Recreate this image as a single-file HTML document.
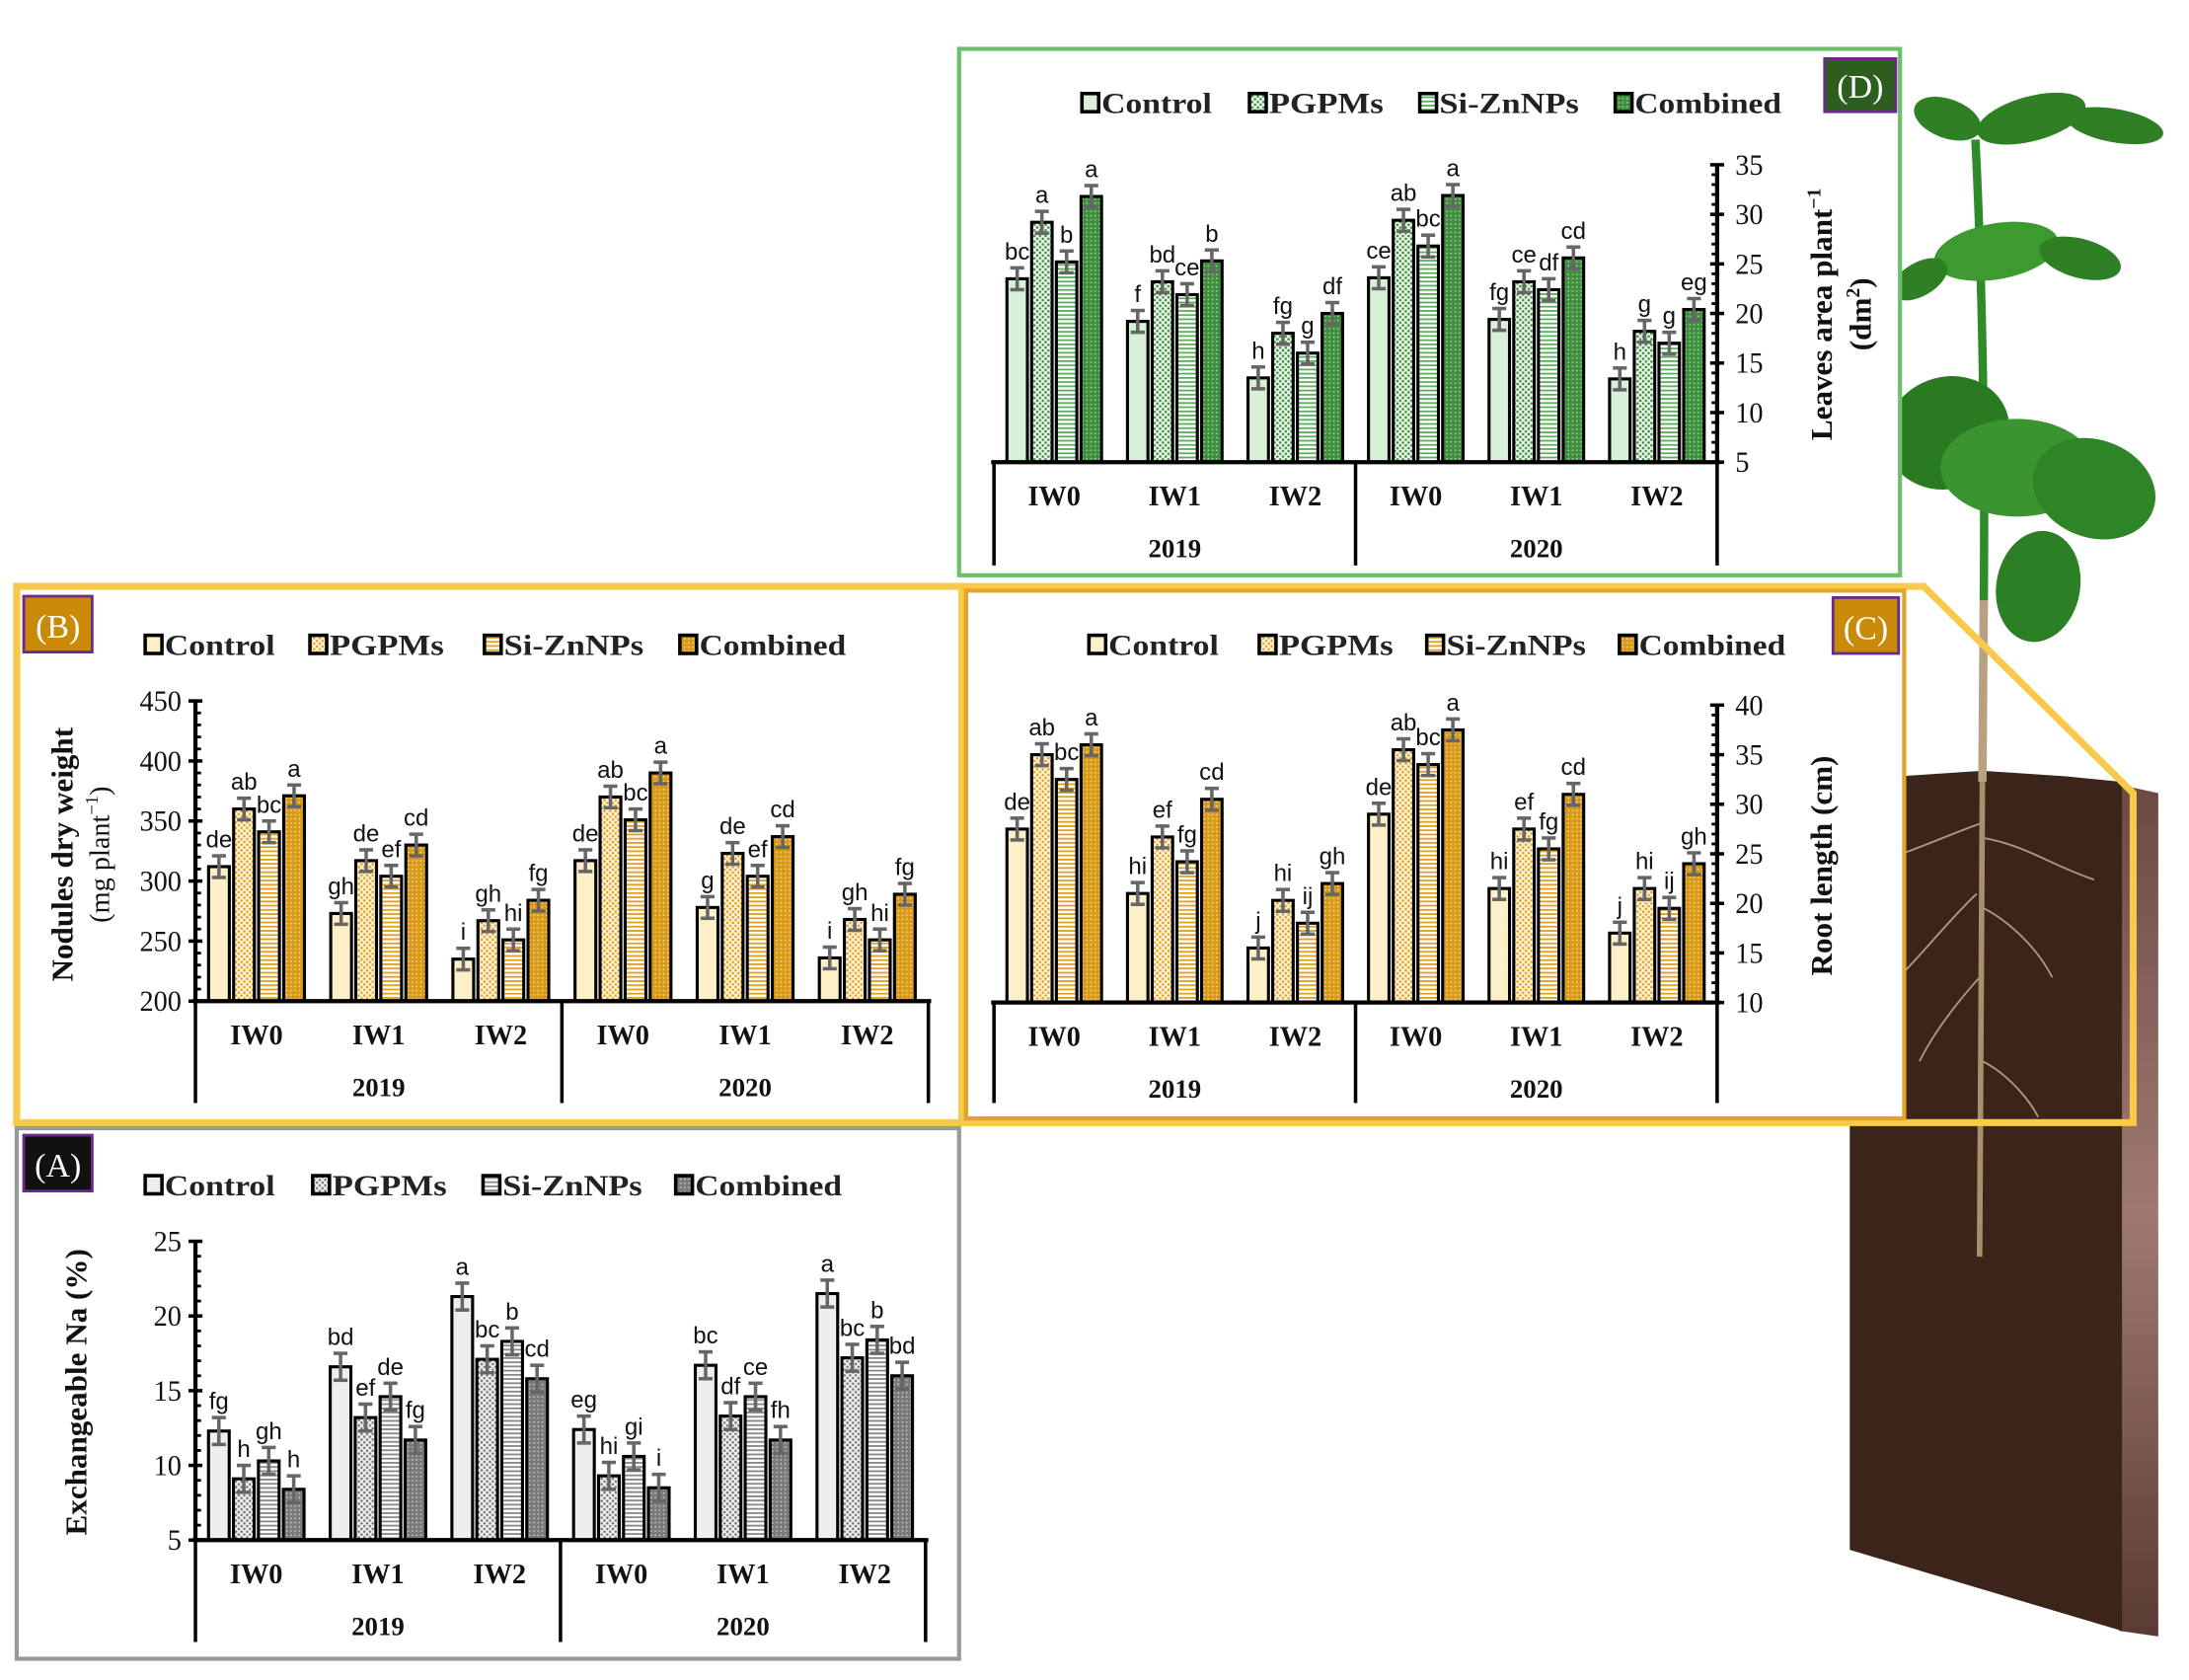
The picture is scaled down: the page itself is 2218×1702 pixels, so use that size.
<!DOCTYPE html>
<html><head><meta charset="utf-8"><style>
html,body{margin:0;padding:0;background:#fff;}
svg{display:block;}
.serif{font-family:"Liberation Serif",serif;}
.sans{font-family:"Liberation Sans",sans-serif;}
</style></head><body>
<svg id="fig" width="2218" height="1702" viewBox="0 0 1568 1203.2" preserveAspectRatio="none" xmlns="http://www.w3.org/2000/svg">
<defs>
  <pattern id="dotG" width="4" height="4" patternUnits="userSpaceOnUse"><rect width="4" height="4" fill="#eaf6ea"/><circle cx="1" cy="1" r="0.9" fill="#3c8a3c"/><circle cx="3" cy="3" r="0.9" fill="#3c8a3c"/></pattern>
  <pattern id="strG" width="4" height="3" patternUnits="userSpaceOnUse"><rect width="4" height="3" fill="#fff"/><rect y="0" width="4" height="1.3" fill="#5fae5f"/></pattern>
  <pattern id="comG" width="3" height="3" patternUnits="userSpaceOnUse"><rect width="3" height="3" fill="#3f8f3f"/><circle cx="1.5" cy="1.5" r="0.6" fill="#a8d8a0"/></pattern>
  <pattern id="dotO" width="4" height="4" patternUnits="userSpaceOnUse"><rect width="4" height="4" fill="#fdf3d8"/><circle cx="1" cy="1" r="0.9" fill="#e0a020"/><circle cx="3" cy="3" r="0.9" fill="#e0a020"/></pattern>
  <pattern id="strO" width="4" height="3" patternUnits="userSpaceOnUse"><rect width="4" height="3" fill="#fff"/><rect y="0" width="4" height="1.3" fill="#e0a020"/></pattern>
  <pattern id="comO" width="3" height="3" patternUnits="userSpaceOnUse"><rect width="3" height="3" fill="#d99a18"/><circle cx="1.5" cy="1.5" r="0.6" fill="#f6dc98"/></pattern>
  <pattern id="dotK" width="4" height="4" patternUnits="userSpaceOnUse"><rect width="4" height="4" fill="#f0f0f0"/><circle cx="1" cy="1" r="0.9" fill="#777"/><circle cx="3" cy="3" r="0.9" fill="#777"/></pattern>
  <pattern id="strK" width="4" height="3" patternUnits="userSpaceOnUse"><rect width="4" height="3" fill="#fff"/><rect y="0" width="4" height="1.3" fill="#888"/></pattern>
  <pattern id="comK" width="3" height="3" patternUnits="userSpaceOnUse"><rect width="3" height="3" fill="#7a7a7a"/><circle cx="1.5" cy="1.5" r="0.6" fill="#cfcfcf"/></pattern>
  <linearGradient id="side" x1="0" x2="0" y1="0" y2="1"><stop offset="0" stop-color="#6b4a44"/><stop offset="0.5" stop-color="#a07a70"/><stop offset="1" stop-color="#5a3a34"/></linearGradient>
</defs>

<!-- plant & soil -->
<g>
  <polygon points="1518,562 1546,568 1546,1172 1518,1168" fill="url(#side)"/>
  <polygon points="1325,562 1360,556 1420,552 1480,556 1520,560 1520,1168 1325,1110" fill="#3b2419"/>
  <g stroke="#c9b89a" stroke-width="1.3" fill="none" opacity="0.8">
    <path d="M1418,590 C1390,600 1370,610 1350,615"/><path d="M1420,600 C1450,605 1470,620 1500,630"/>
    <path d="M1416,640 C1395,660 1380,680 1360,700"/><path d="M1420,650 C1440,660 1460,680 1470,700"/>
    <path d="M1418,700 C1400,720 1385,740 1375,760"/><path d="M1420,760 C1440,770 1455,790 1460,800"/>
  </g>
  <path d="M1420,560 L1418,900" stroke="#a8906c" stroke-width="4" fill="none"/>
  <path d="M1421,430 L1420,560" stroke="#b8a080" stroke-width="6" fill="none"/>
  <path d="M1415,100 C1420,200 1422,320 1421,430" stroke="#2f8a2a" stroke-width="6" fill="none"/>
  <g fill="#2f7f25">
    <ellipse cx="1455" cy="85" rx="40" ry="16" transform="rotate(-15 1455 85)"/>
    <ellipse cx="1515" cy="90" rx="35" ry="12" transform="rotate(10 1515 90)"/>
    <ellipse cx="1395" cy="85" rx="25" ry="14" transform="rotate(20 1395 85)"/>
    <ellipse cx="1430" cy="180" rx="45" ry="20" transform="rotate(-10 1430 180)" fill="#3c9a30"/>
    <ellipse cx="1490" cy="185" rx="30" ry="14" transform="rotate(15 1490 185)"/>
    <ellipse cx="1395" cy="310" rx="45" ry="40" transform="rotate(-20 1395 310)" fill="#2a7a22"/>
    <ellipse cx="1445" cy="335" rx="55" ry="35" fill="#3a9430"/>
    <ellipse cx="1500" cy="350" rx="45" ry="35" transform="rotate(20 1500 350)" fill="#2d8526"/>
    <ellipse cx="1460" cy="420" rx="30" ry="40" transform="rotate(10 1460 420)" fill="#2c7f24"/>
    <ellipse cx="1375" cy="200" rx="22" ry="12" transform="rotate(-30 1375 200)"/>
  </g>
</g>

<!-- panel frames -->
<polygon points="1363,420 1378,420 1528,568 1528,804 12,804 12,420" fill="none" stroke="#f8c94a" stroke-width="5"/>
<rect x="12" y="420" width="677" height="384" fill="#fff" stroke="#f8c94a" stroke-width="5"/>
<rect x="692" y="423" width="672" height="378" fill="#fff" stroke="#e2a42a" stroke-width="3"/>
<rect x="687" y="35" width="674" height="377" fill="#fff" stroke="#6cc06c" stroke-width="3"/>
<rect x="12" y="808" width="675" height="380" fill="#fff" stroke="#999" stroke-width="3"/>

<g id="charts"></g>
</svg>
<script>
// ---- data ----
const categories = ['IW0','IW1','IW2'];
const years = ['2019','2020'];
const seriesNames = ['Control','PGPMs','Si-ZnNPs','Combined'];
// Panel D: Leaves area (dm2) — order: 2019 IW0,IW1,IW2, 2020 IW0,IW1,IW2
const dControl  = [23.5, 19.2, 13.5, 23.6, 19.4, 13.4];
const dPGPMs    = [29.2, 23.2, 18.0, 29.4, 23.2, 18.2];
const dSiZn     = [25.2, 21.9, 16.0, 26.8, 22.4, 17.0];
const dCombined = [31.8, 25.3, 20.0, 31.9, 25.6, 20.4];
const dLetters = [['bc','a','b','a'],['f','bd','ce','b'],['h','fg','g','df'],['ce','ab','bc','a'],['fg','ce','df','cd'],['h','g','g','eg']];
const dTicks = [5,10,15,20,25,30,35];
// Panel B: Nodules dry weight
const bControl  = [312, 273, 235, 317, 278, 236];
const bPGPMs    = [360, 317, 267, 370, 323, 268];
const bSiZn     = [341, 304, 251, 351, 304, 251];
const bCombined = [371, 330, 284, 390, 337, 289];
const bLetters = [['de','ab','bc','a'],['gh','de','ef','cd'],['i','gh','hi','fg'],['de','ab','bc','a'],['g','de','ef','cd'],['i','gh','hi','fg']];
const bTicks = [200,250,300,350,400,450];
// Panel C: Root length
const cControl  = [27.5, 21.0, 15.5, 29.0, 21.5, 17.0];
const cPGPMs    = [35.0, 26.7, 20.3, 35.5, 27.5, 21.5];
const cSiZn     = [32.5, 24.2, 18.0, 34.0, 25.5, 19.5];
const cCombined = [36.0, 30.5, 22.0, 37.5, 31.0, 24.0];
const cLetters = [['de','ab','bc','a'],['hi','ef','fg','cd'],['j','hi','ij','gh'],['de','ab','bc','a'],['hi','ef','fg','cd'],['j','hi','ij','gh']];
const cTicks = [10,15,20,25,30,35,40];
// Panel A: Exchangeable Na
const aControl  = [12.3, 16.6, 21.3, 12.4, 16.7, 21.5];
const aPGPMs    = [9.1, 13.2, 17.1, 9.3, 13.3, 17.2];
const aSiZn     = [10.3, 14.6, 18.3, 10.6, 14.6, 18.4];
const aCombined = [8.4, 11.7, 15.8, 8.5, 11.7, 16.0];
const aLetters = [['fg','h','gh','h'],['bd','ef','de','fg'],['a','bc','b','cd'],['eg','hi','gi','i'],['bc','df','ce','fh'],['a','bc','b','bd']];
const aTicks = [5,10,15,20,25];

const NS='http://www.w3.org/2000/svg';
const root=document.getElementById('charts');
function mk(tag,attrs,parent){const e=document.createElementNS(NS,tag);for(const k in attrs)e.setAttribute(k,attrs[k]);(parent||root).appendChild(e);return e;}

function panel(c){
  const g=mk('g',{});
  
  
  const vmin=c.ticks[0], vmax=c.ticks[c.ticks.length-1];
  const y=v=>c.yBot-(v-vmin)/(vmax-vmin)*(c.yBot-c.yTop);
  const gw=(c.x1-c.x0)/6, bw=gw*0.17, gap=gw*0.035, tot=4*bw+3*gap;
  const series=[c.s0,c.s1,c.s2,c.s3];
  const lb=mk('rect',{x:c.lab[0],y:c.lab[1],width:c.lab[2],height:c.lab[3],fill:c.labFill,stroke:'#6a2a8a','stroke-width':2},g);
  
  
  const lt=mk('text',{x:c.lab[0]+c.lab[2]/2,y:c.lab[1]+c.lab[3]*0.74,'text-anchor':'middle','font-size':24,fill:'#fff',class:'serif'},g);
  lt.textContent=c.letter;
  
  
  for(let i=0;i<4;i++){
    const lg=mk('g',{},g);
    
    
    mk('rect',{x:c.legX[i],y:c.legY-8,width:12,height:13,fill:c.fills[i],stroke:'#000','stroke-width':2.5},lg);
    const t=mk('text',{x:c.legX[i]+14,y:c.legY+6,'font-size':21,'font-weight':'bold',class:'serif',fill:'#222',textLength:c.legW[i],lengthAdjust:'spacingAndGlyphs'},lg);
    t.textContent=seriesNames[i];
  }
  for(let k=0;k<6;k++){
    const gx=c.x0+k*gw+(gw-tot)/2;
    for(let i=0;i<4;i++){
      const v=series[i][k], bx=gx+i*(bw+gap), by=y(v);
      const r=mk('rect',{x:bx,y:by,width:bw,height:c.yBot-by,fill:c.fills[i],stroke:'#000','stroke-width':2.2},g);
      
      
      const cx=bx+bw/2, e1=y(v+c.err), e2=y(v-c.err);
      mk('line',{x1:cx,x2:cx,y1:e1,y2:e2,stroke:'#666','stroke-width':2.5},g);
      mk('line',{x1:cx-5,x2:cx+5,y1:e1,y2:e1,stroke:'#666','stroke-width':2.5},g);
      mk('line',{x1:cx-5,x2:cx+5,y1:e2,y2:e2,stroke:'#666','stroke-width':2.5},g);
      const t=mk('text',{x:cx,y:e1-6,'text-anchor':'middle','font-size':17,class:'sans',fill:'#111'},g);
      t.textContent=c.letters[k][i];
      
      
    }
  }
  const ax=c.side==='right'?c.x1:c.x0;
  mk('line',{x1:ax,x2:ax,y1:c.yTop,y2:c.yBot,stroke:'#000','stroke-width':3},g);
  const step=c.ticks[1]-c.ticks[0];
  for(let i=0;i<c.ticks.length;i++){
    const v=c.ticks[i], ty=y(v);
    mk('line',{x1:ax-5,x2:ax+5,y1:ty,y2:ty,stroke:'#000','stroke-width':2.5},g);
    if(i<c.ticks.length-1){for(let m=1;m<5;m++){const my=y(v+step*m/5);mk('line',{x1:c.side==='right'?ax-4:ax,x2:c.side==='right'?ax:ax+4,y1:my,y2:my,stroke:'#000','stroke-width':2},g);}}
    const t=mk('text',{x:c.side==='right'?ax+13:ax-10,y:ty+7,'text-anchor':c.side==='right'?'start':'end','font-size':21,class:'serif',fill:'#111',textLength:c.ticks[i]>=100?30:(v>=10?20:10),lengthAdjust:'spacingAndGlyphs'},g);
    t.textContent=v;
    
    
  }
  mk('line',{x1:c.x0-2,x2:c.x1+2,y1:c.yBot,y2:c.yBot,stroke:'#000','stroke-width':3},g);
  const mid=(c.x0+c.x1)/2;
  [c.x0,mid,c.x1].forEach(xx=>mk('line',{x1:xx,x2:xx,y1:c.yBot,y2:c.yEnd,stroke:'#000','stroke-width':2.5},g));
  for(let k=0;k<6;k++){
    const t=mk('text',{x:c.x0+(k+0.5)*gw,y:c.yBot+31,'text-anchor':'middle','font-size':20,'font-weight':'bold',class:'serif',fill:'#111'},g);
    t.textContent=categories[k%3];
    
    
  }
  for(let j=0;j<2;j++){
    const t=mk('text',{x:c.x0+(j*3+1.5)*gw,y:c.yBot+68,'text-anchor':'middle','font-size':19,'font-weight':'bold',class:'serif',fill:'#111'},g);
    t.textContent=years[j];
    
    
  }
  c.title.forEach((tt,i)=>{
    const t=mk('text',{x:c.titleX[i],y:c.titleY,'text-anchor':'middle','font-size':tt.size,'font-weight':tt.bold?'bold':'normal',class:'serif',fill:'#111',transform:'rotate(-90 '+c.titleX[i]+' '+c.titleY+')'},g);
    t.innerHTML=tt.t;
    
    
  });
}

panel({name:'panel-d-leaves-area',letter:'(D)',lab:[1307,42,51,38],labFill:'#2e5e1e',
  legX:[775,895,1017,1157],legY:75,legW:[79,82,100,105],fills:['#d8efd8','url(#dotG)','url(#strG)','url(#comG)'],
  x0:712,x1:1230,yTop:118,yBot:331,yEnd:405,side:'right',ticks:dTicks,err:1.1,
  s0:dControl,s1:dPGPMs,s2:dSiZn,s3:dCombined,letters:dLetters,
  title:[{t:'Leaves area plant<tspan dy="-8" font-size="14">−1</tspan>',size:22,bold:true},{t:'(dm<tspan dy="-8" font-size="14">2</tspan><tspan dy="8">)</tspan>',size:22,bold:true}],titleX:[1312,1340],titleY:225});
panel({name:'panel-b-nodules-weight',letter:'(B)',lab:[17,427,49,40],labFill:'#c98a0a',
  legX:[104,222,347,487],legY:463,legW:[79,82,100,105],fills:['#fdf0c8','url(#dotO)','url(#strO)','url(#comO)'],
  x0:140,x1:665,yTop:502,yBot:717,yEnd:790,side:'left',ticks:bTicks,err:9,
  s0:bControl,s1:bPGPMs,s2:bSiZn,s3:bCombined,letters:bLetters,
  title:[{t:'Nodules dry weight',size:22,bold:true},{t:'(mg plant<tspan dy="-8" font-size="13">−1</tspan><tspan dy="8">)</tspan>',size:20,bold:false}],titleX:[52,78],titleY:612});
panel({name:'panel-c-root-length',letter:'(C)',lab:[1313,428,47,40],labFill:'#c98a0a',
  legX:[780,902,1022,1160],legY:463,legW:[79,82,100,105],fills:['#fdf0c8','url(#dotO)','url(#strO)','url(#comO)'],
  x0:712,x1:1230,yTop:505,yBot:718,yEnd:790,side:'right',ticks:cTicks,err:1.1,
  s0:cControl,s1:cPGPMs,s2:cSiZn,s3:cCombined,letters:cLetters,
  title:[{t:'Root length (cm)',size:22,bold:true}],titleX:[1312],titleY:620});
panel({name:'panel-a-exchangeable-na',letter:'(A)',lab:[17,813,49,40],labFill:'#111',
  legX:[104,224,346,484],legY:850,legW:[79,82,100,105],fills:['#eeeeee','url(#dotK)','url(#strK)','url(#comK)'],
  x0:140,x1:663,yTop:889,yBot:1103,yEnd:1176,side:'left',ticks:aTicks,err:0.9,
  s0:aControl,s1:aPGPMs,s2:aSiZn,s3:aCombined,letters:aLetters,
  title:[{t:'Exchangeable Na (%)',size:22,bold:true}],titleX:[62],titleY:997});
</script>
</body></html>
